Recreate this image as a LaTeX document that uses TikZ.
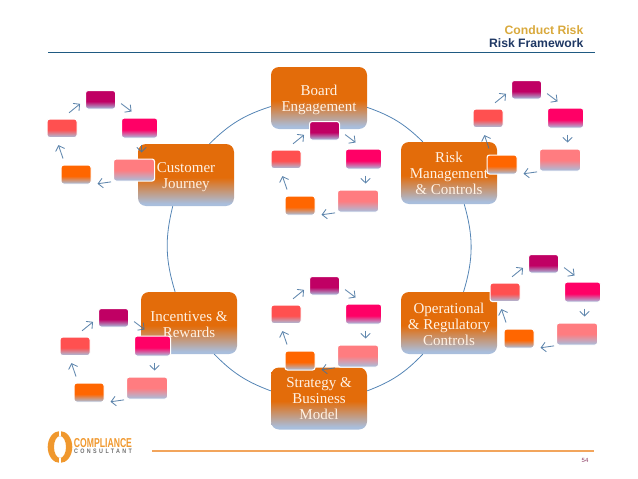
\documentclass[tikz,border=0pt]{standalone}
\usepackage{fontspec}
\usepackage{graphicx}
\setmainfont{Liberation Serif}
\newfontfamily\hdfont{Liberation Sans}
\newfontfamily\spfont[LetterSpace=45]{Liberation Sans}
\usetikzlibrary{arrows.meta,shapes.geometric}
\definecolor{bluegray}{HTML}{A9BEDC}
\definecolor{cBig}{HTML}{E36C0A}
\definecolor{cPur}{HTML}{C00064}
\definecolor{cMag}{HTML}{FF0066}
\definecolor{cSal}{HTML}{FF7C80}
\definecolor{cOrg}{HTML}{FF6600}
\definecolor{cRed}{HTML}{FF5050}
\definecolor{ringblue}{HTML}{5585B5}
\definecolor{arrblue}{HTML}{44729F}
\definecolor{hdgold}{HTML}{D9A93C}
\definecolor{hdnavy}{HTML}{1F3864}
\definecolor{hdline}{HTML}{1F5A82}
\definecolor{ftline}{HTML}{F2A55C}
\definecolor{logoorg}{HTML}{F0982E}
\definecolor{logogray}{HTML}{6E6E6E}
\definecolor{pagenum}{HTML}{8B3A62}
\pgfdeclareverticalshading{shBig}{100bp}{color(0bp)=(bluegray); color(27bp)=(bluegray); color(48bp)=(cBig); color(100bp)=(cBig)}
\pgfdeclareverticalshading{shPur}{100bp}{color(0bp)=(bluegray); color(26bp)=(bluegray); color(46bp)=(cPur); color(100bp)=(cPur)}
\pgfdeclareverticalshading{shMag}{100bp}{color(0bp)=(bluegray); color(26bp)=(bluegray); color(46bp)=(cMag); color(100bp)=(cMag)}
\pgfdeclareverticalshading{shSal}{100bp}{color(0bp)=(bluegray); color(26bp)=(bluegray); color(50bp)=(cSal); color(100bp)=(cSal)}
\pgfdeclareverticalshading{shOrg}{100bp}{color(0bp)=(bluegray); color(26bp)=(bluegray); color(46bp)=(cOrg); color(100bp)=(cOrg)}
\pgfdeclareverticalshading{shRed}{100bp}{color(0bp)=(bluegray); color(26bp)=(bluegray); color(46bp)=(cRed); color(100bp)=(cRed)}
\pgfdeclarelayer{fg}
\pgfsetlayers{main,fg}
\newcommand{\firstlift}[1]{\rule{0pt}{#1}}
\tikzset{
  bigbox/.style={shade,shading=shBig,rounded corners=8pt,minimum width=96pt,minimum height=62pt,inner sep=0pt,
    align=center,text=white!90!orange,font=\fontsize{15}{16}\selectfont},
  smallbox/.style={draw=white,line width=1.1pt,rounded corners=2.5pt,inner sep=0pt,anchor=north west},
  purbox/.style={smallbox,shade,shading=shPur,minimum width=30pt,minimum height=18.5pt},
  magbox/.style={smallbox,shade,shading=shMag,minimum width=36pt,minimum height=20pt},
  salbox/.style={smallbox,shade,shading=shSal,minimum width=41pt,minimum height=22pt},
  orgbox/.style={smallbox,shade,shading=shOrg,minimum width=30pt,minimum height=19pt},
  redbox/.style={smallbox,shade,shading=shRed,minimum width=30pt,minimum height=18.5pt},
  ringline/.style={draw=ringblue,line width=0.8pt},
  flowarrow/.style={draw=arrblue,opacity=.85,line width=0.85pt,-{Straight Barb[length=4.6pt,width=9.5pt,line width=0.85pt]}},
  hdtext/.style={anchor=base east,inner sep=0pt,font=\hdfont\bfseries\fontsize{12.2}{13}\selectfont}
}
\begin{document}
\begin{tikzpicture}[x=1pt,y=-1pt]
\useasboundingbox (0,0) rectangle (638,479);
% header
\node[hdtext,text=hdgold] (hd1) at (583.5,34.5) {Conduct Risk};
\node[hdtext,text=hdnavy] (hd2) at (583.5,47.8) {Risk Framework};
\draw[draw=hdline,line width=1.1pt] (48,52.7) -- (594.5,52.7);
% big nodes
\node[bigbox] (board) at (319,98) {\firstlift{14pt}Board\\Engagement};
\node[bigbox] (cust) at (186,175) {\firstlift{14pt}Customer\\Journey};
\node[bigbox] (risk) at (449,173) {Risk\\Management\\\& Controls};
\node[bigbox] (incent) at (189,323) {\firstlift{12.5pt}Incentives \&\\Rewards};
\node[bigbox] (strat) at (319,398.5) {Strategy \&\\Business\\Model};
\node[bigbox] (oper) at (449,323) {\firstlift{12.5pt}Operational\\\& Regulatory\\Controls};
% ring
\draw[ringline] (board.190.6) to[bend right=13.4] (cust.53);
\draw[ringline] (board.349.4) to[bend left=12.5] (risk.130);
\draw[ringline] (risk.296) to[bend left=16.4] (oper.65.7);
\draw[ringline] (oper.230) to[bend left=12.6] (strat.9);
\draw[ringline] (strat.171) to[bend left=12.5] (incent.309);
\draw[ringline] (incent.114) to[bend left=15.5] (cust.247);
% small cycles
\foreach \g/\px/\py in {a/85/90,b/309/121,c/511/80,d/98/308,e/309/276,f/528/254}{
  \begin{scope}[shift={(\px,\py)}]
    \begin{pgfonlayer}{fg}
      \node[purbox] (\g pur) at (0,0) {};
      \node[magbox] (\g mag) at (36,27.5) {};
      \node[salbox] (\g sal) at (28,68.5) {};
      \node[orgbox] (\g org) at (-24.5,74.5) {};
      \node[redbox] (\g red) at (-38.5,28.5) {};
    \end{pgfonlayer}
    \draw[flowarrow,shorten <=9pt,shorten >=6.4pt] (\g red.north) -- (\g pur.west);
    \draw[flowarrow,shorten <=6.2pt,shorten >=10pt] (\g pur.east) -- (\g mag.north);
    \draw[flowarrow,shorten <=6pt,shorten >=6pt] ([xshift=2pt]\g mag.south) -- ([xshift=2pt]\g mag.south |- \g sal.north);
    \draw[flowarrow,shorten <=2pt,shorten >=6pt] (\g sal.south west) -- (\g org.south east);
    \draw[flowarrow,shorten <=6.3pt,shorten >=7.4pt] ([xshift=-11pt]\g org.north) -- ([xshift=-6pt]\g red.south);
  \end{scope}
}
% footer
\draw[draw=ftline,line width=1.8pt] (152,450.7) -- (594,450.7);
\node[inner sep=0pt,text=pagenum,font=\hdfont\fontsize{6}{7}\selectfont] (pg) at (585,460.7) {54};
% logo
\fill[logoorg,even odd rule] (60,447) ellipse [x radius=12.3pt,y radius=16pt] (60,447) ellipse [x radius=6pt,y radius=11pt];
\fill[white] (58.8,430) rectangle (61.2,436);
\fill[white] (58.8,458) rectangle (61.2,464);
\node[inner sep=0pt,text=logoorg,font=\hdfont\bfseries] (lg1) at (103,442.6) {\resizebox{58pt}{9pt}{COMPLIANCE}};
\node[inner sep=0pt,text=logogray,font=\spfont\bfseries] (lg2) at (103,451.2) {\resizebox{58pt}{4.5pt}{CONSULTANT}};
\end{tikzpicture}
\end{document}
